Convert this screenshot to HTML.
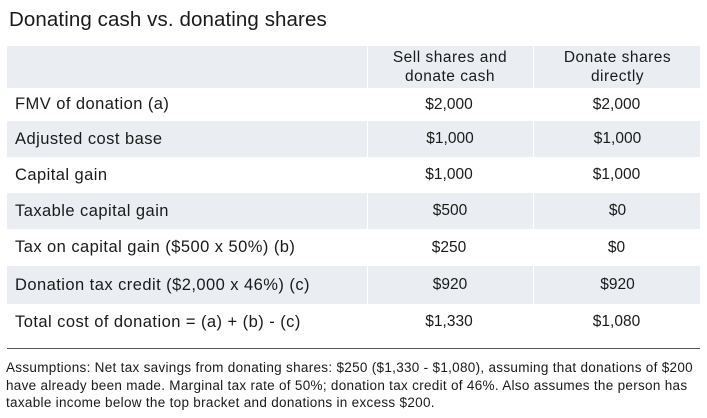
<!DOCTYPE html>
<html><head><style>
body{margin:0;width:707px;height:418px;background:#fff;font-family:"Liberation Sans",sans-serif;color:#1a1a1a;position:relative;overflow:hidden}
.t{position:absolute;left:9px;top:8px;font-size:20.5px;letter-spacing:0.1px}
.r{position:absolute;left:7px;width:693px;font-size:15.5px}
.r div{position:absolute;top:0;height:100%;display:flex;align-items:center}
.a{left:8px;font-size:16.5px;letter-spacing:0.45px}
.b{left:360px;width:164px;justify-content:center;text-align:center}
.c{left:526px;width:167px;justify-content:center;text-align:center}
.s{background:#eaeef3}
.s .b,.s .c{border-left:1px solid #fff}
.h{font-size:15.5px;line-height:19px;letter-spacing:0.5px}
.f{position:absolute;left:6px;top:359px;font-size:13.5px;line-height:17.5px;letter-spacing:0.3px;white-space:nowrap}
</style></head><body>
<div class="t">Donating cash vs. donating shares</div>
<div class="r s h" style="top:46px;height:42px"><div class="b">Sell shares and<br>donate cash</div><div class="c">Donate shares<br>directly</div></div>
<div class="r" style="top:88px;height:33px"><div class="a">FMV of donation (a)</div><div class="b">$2,000</div><div class="c">$2,000</div></div>
<div class="r s" style="top:121px;height:36px"><div class="a">Adjusted cost base</div><div class="b">$1,000</div><div class="c">$1,000</div></div>
<div class="r" style="top:157px;height:36px"><div class="a">Capital gain</div><div class="b">$1,000</div><div class="c">$1,000</div></div>
<div class="r s" style="top:193px;height:36px"><div class="a">Taxable capital gain</div><div class="b">$500</div><div class="c">$0</div></div>
<div class="r" style="top:229px;height:37px"><div class="a">Tax on capital gain ($500 x 50%) (b)</div><div class="b">$250</div><div class="c">$0</div></div>
<div class="r s" style="top:266px;height:38px"><div class="a">Donation tax credit ($2,000 x 46%) (c)</div><div class="b">$920</div><div class="c">$920</div></div>
<div class="r" style="top:304px;height:36px"><div class="a">Total cost of donation = (a) + (b) - (c)</div><div class="b">$1,330</div><div class="c">$1,080</div></div>
<div style="position:absolute;left:7px;top:348px;width:693px;height:1px;background:#555"></div>
<div class="f">Assumptions: Net tax savings from donating shares: $250 ($1,330 - $1,080), assuming that donations of $200<br>have already been made. Marginal tax rate of 50%; donation tax credit of 46%. Also assumes the person has<br>taxable income below the top bracket and donations in excess $200.</div>
</body></html>
